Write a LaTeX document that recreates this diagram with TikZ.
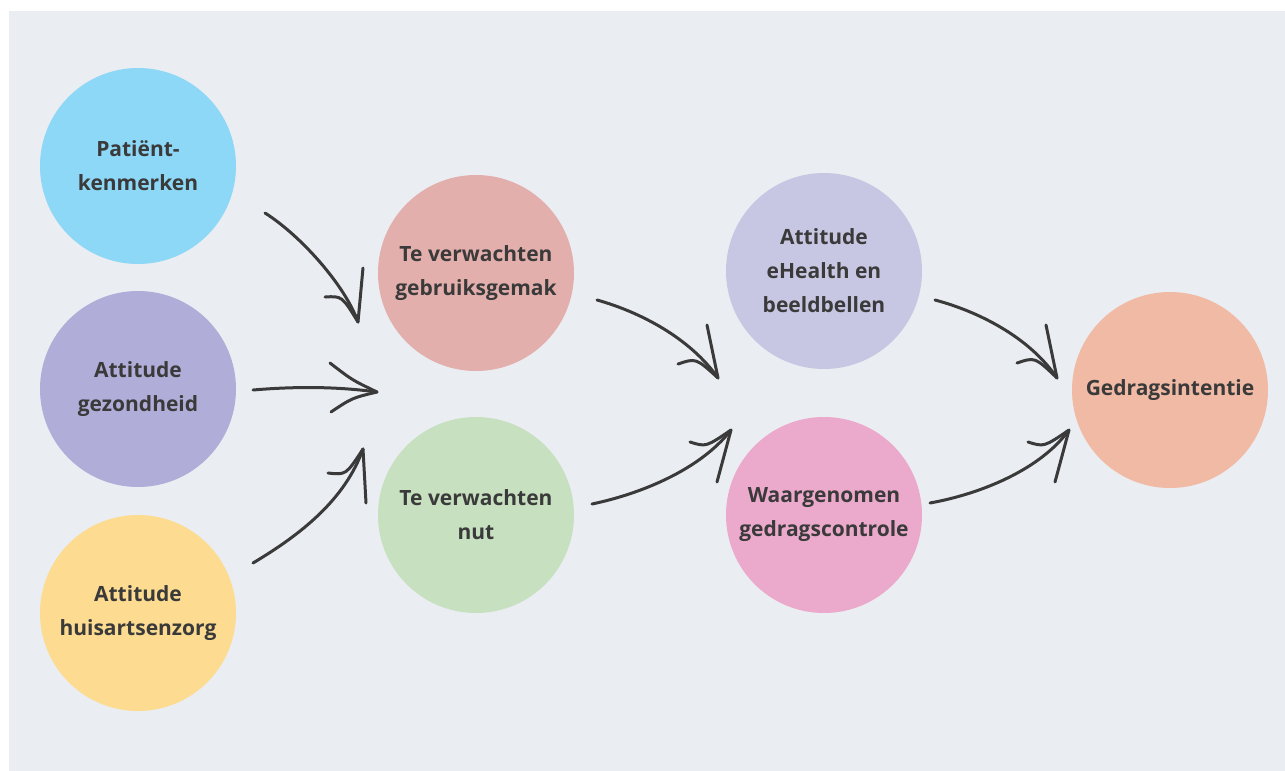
\documentclass[tikz,border=0pt]{standalone}
\usepackage{fontspec}
\setmainfont{Open Sans}
\definecolor{bgpanel}{HTML}{EAEDF2}
\definecolor{txt}{HTML}{3A3A3A}
\definecolor{cblue}{HTML}{8DD7F7}
\definecolor{cviolet}{HTML}{B0AED8}
\definecolor{cyellow}{HTML}{FDDC91}
\definecolor{crose}{HTML}{E3AFAD}
\definecolor{cgreen}{HTML}{C7E0C0}
\definecolor{clav}{HTML}{C8C7E3}
\definecolor{cpink}{HTML}{EBA9CB}
\definecolor{cpeach}{HTML}{F0BAA5}
\begin{document}
\begin{tikzpicture}[x=1pt,y=-1pt,
  bubble/.style={circle,minimum size=196pt,inner sep=0pt,align=center,text=txt,
    font=\fontsize{21}{34}\selectfont\bfseries},
  sketch/.style={draw=txt,line width=3pt,line cap=round,line join=round}]
\useasboundingbox (0,0) rectangle (1285,771);
\fill[bgpanel] (9,11) rectangle (1285,771);
\node[bubble,fill=cblue]   (pk)  at (138,166) {Patiënt-\\kenmerken};
\node[bubble,fill=cviolet] (ag)  at (138,389) {Attitude\\gezondheid};
\node[bubble,fill=cyellow] (ah)  at (138,613) {Attitude\\huisartsenzorg};
\node[bubble,fill=crose]   (gg)  at (476,273) {Te verwachten\\gebruiksgemak};
\node[bubble,fill=cgreen]  (nut) at (476,515) {Te verwachten\\nut};
\node[bubble,fill=clav]    (eh)  at (824,271) {Attitude\\eHealth en\\beeldbellen};
\node[bubble,fill=cpink]   (wg)  at (824,515) {Waargenomen\\gedragscontrole};
\node[bubble,fill=cpeach]  (gi)  at (1170,390) {Gedragsintentie};
% arrow end points
\coordinate (s1) at (265,213); \coordinate (t1) at (358,322);
\coordinate (s2) at (253,390); \coordinate (t2) at (377,392);
\coordinate (s3) at (253,563); \coordinate (t3) at (363,449);
\coordinate (s4) at (597,300); \coordinate (t4) at (718,378);
\coordinate (s5) at (592,504); \coordinate (t5) at (731,430);
\coordinate (s6) at (935,300); \coordinate (t6) at (1057,378);
\coordinate (s7) at (930,503); \coordinate (t7) at (1069,430);
% arrow 1
\draw[sketch] (s1) .. controls (300,235) and (345,285) .. (t1);
\draw[sketch] (325,297) .. controls (342,296) .. (t1) -- (363,268);
% arrow 2
\draw[sketch] (s2) .. controls (300,386) and (340,387) .. (t2);
\draw[sketch] (330,363) .. controls (352,380) .. (t2) .. controls (352,398) .. (331,412);
% arrow 3
\draw[sketch] (s3) .. controls (300,535) and (345,500) .. (t3);
\draw[sketch] (328,473) .. controls (346,475) .. (t3) -- (366,503);
% arrow 4
\draw[sketch] (s4) .. controls (640,312) and (690,338) .. (t4);
\draw[sketch] (678,364) .. controls (696,358) .. (t4) -- (707,325);
% arrow 5
\draw[sketch] (s5) .. controls (640,494) and (700,470) .. (t5);
\draw[sketch] (690,442) .. controls (706,447) .. (t5) -- (717,482);
% arrow 6
\draw[sketch] (s6) .. controls (980,312) and (1030,338) .. (t6);
\draw[sketch] (1017,363) .. controls (1035,357) .. (t6) -- (1046,325);
% arrow 7
\draw[sketch] (s7) .. controls (980,494) and (1040,470) .. (t7);
\draw[sketch] (1028,442) .. controls (1044,447) .. (t7) -- (1055,482);
\end{tikzpicture}
\end{document}
